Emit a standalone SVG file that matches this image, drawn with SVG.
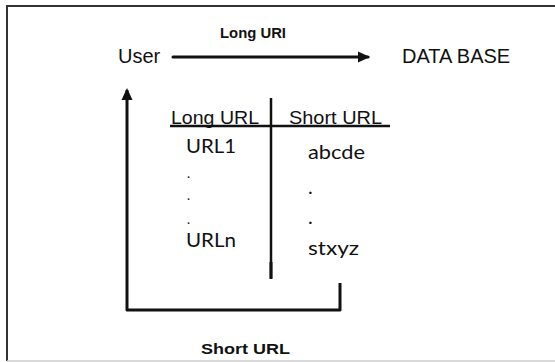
<svg xmlns="http://www.w3.org/2000/svg" width="555" height="362" viewBox="0 0 555 362">
<style>
  .lbl{font-family:"Liberation Sans",Arial,sans-serif;fill:#111}
  .cell{font-family:Lato,"Open Sans",sans-serif;fill:#111}
  .ln{stroke:#111;stroke-width:3;fill:none;stroke-linejoin:round}
  .tb{stroke:#111;stroke-width:2.5;fill:none}
</style>
<defs>
  <marker id="ah" markerWidth="10" markerHeight="10" refX="9" refY="5" orient="auto" markerUnits="userSpaceOnUse" viewBox="0 0 10 10">
    <path d="M0,0 L10,5 L0,10 z" fill="#111"/>
  </marker>
  <marker id="ah2" markerWidth="12" markerHeight="12" refX="10" refY="6" orient="auto" markerUnits="userSpaceOnUse" viewBox="0 0 12 12">
    <path d="M0,0.5 L12,6 L0,11.5 z" fill="#111"/>
  </marker>
</defs>
<rect x="0" y="0" width="555" height="362" fill="#fff"/>
<line x1="7" y1="6" x2="555" y2="6" stroke="#333" stroke-width="2"/>
<line x1="7" y1="5" x2="7" y2="361" stroke="#333" stroke-width="2"/>
<line x1="7" y1="361" x2="555" y2="361" stroke="#ccc" stroke-width="1.5"/>

<g id="user"><text class="lbl" x="118" y="63" font-size="20">User</text></g>
<g id="database"><text class="lbl" x="402" y="63" font-size="20">DATA BASE</text></g>

<g id="table">
  <text class="lbl" x="171" y="124" font-size="19" textLength="88" lengthAdjust="spacingAndGlyphs">Long URL</text>
  <text class="lbl" x="289" y="124" font-size="19" textLength="93" lengthAdjust="spacingAndGlyphs">Short URL</text>
  <line class="tb" x1="170" y1="126" x2="390" y2="126"/>
  <line class="tb" x1="271" y1="98" x2="271" y2="278"/>
  <text class="cell" x="186" y="153" font-size="19" textLength="50" lengthAdjust="spacingAndGlyphs">URL1</text>
  <text class="cell" x="187" y="178" font-size="13">.</text>
  <text class="cell" x="187" y="200" font-size="13">.</text>
  <text class="cell" x="187" y="224" font-size="13">.</text>
  <text class="cell" x="186" y="247" font-size="19" textLength="50" lengthAdjust="spacingAndGlyphs">URLn</text>
  <text class="cell" x="308" y="159" font-size="20" textLength="57" lengthAdjust="spacingAndGlyphs">abcde</text>
  <text class="cell" x="308" y="194" font-size="20">.</text>
  <text class="cell" x="308" y="224" font-size="20">.</text>
  <text class="cell" x="308" y="255" font-size="20" textLength="51" lengthAdjust="spacingAndGlyphs">stxyz</text>
</g>

<g id="connectors">
  <line class="ln" x1="173" y1="57" x2="368" y2="57" marker-end="url(#ah2)" stroke-linecap="round"/>
  <text class="lbl" x="220" y="38" font-size="14" font-weight="bold" textLength="66" lengthAdjust="spacingAndGlyphs">Long URI</text>
  <line class="ln" x1="271" y1="262" x2="271" y2="279"/>
  <path class="ln" d="M340,283 L340,310 L127,310 L127,90" marker-end="url(#ah2)"/>
  <text class="lbl" x="201" y="354" font-size="15" font-weight="bold" textLength="89" lengthAdjust="spacingAndGlyphs">Short URL</text>
</g>
</svg>
